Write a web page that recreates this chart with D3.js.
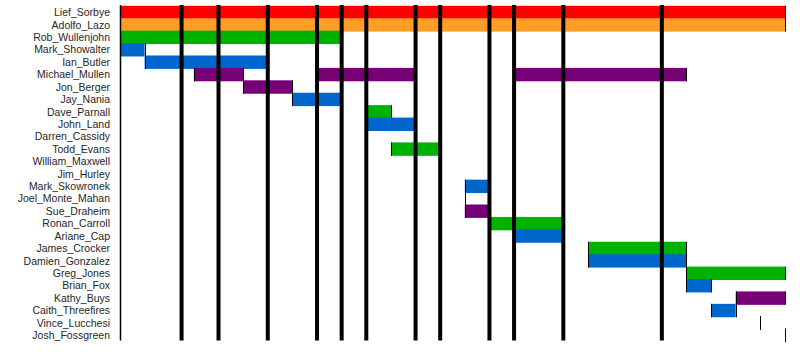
<!DOCTYPE html>
<html>
<head>
<meta charset="utf-8">
<script src="https://cdn.jsdelivr.net/npm/d3@7"></script>
<style>
body { margin: 0; background: #fff; }
svg { display: block; }
</style>
</head>
<body>
<svg id="chart" width="800" height="360"></svg>
<script>
var width = 800;
var height = 360;

// band members, top to bottom
var members = [
	'Lief_Sorbye', 'Adolfo_Lazo', 'Rob_Wullenjohn', 'Mark_Showalter', 'Ian_Butler',
	'Michael_Mullen', 'Jon_Berger', 'Jay_Nania', 'Dave_Parnall', 'John_Land',
	'Darren_Cassidy', 'Todd_Evans', 'William_Maxwell', 'Jim_Hurley', 'Mark_Skowronek',
	'Joel_Monte_Mahan', 'Sue_Draheim', 'Ronan_Carroll', 'Ariane_Cap', 'James_Crocker',
	'Damien_Gonzalez', 'Greg_Jones', 'Brian_Fox', 'Kathy_Buys', 'Caith_Threefires',
	'Vince_Lucchesi', 'Josh_Fossgreen'
];

// [member, start, end, role]
var stints = [
	['Lief_Sorbye', 1988, 2015, 'vocals'],
	['Adolfo_Lazo', 1988, 2015, 'drums'],
	['Rob_Wullenjohn', 1988, 1997, 'guitar'],
	['Mark_Showalter', 1988, 1989, 'fiddle'],
	['Ian_Butler', 1989, 1994, 'fiddle'],
	['Michael_Mullen', 1991, 1993, 'bass'],
	['Michael_Mullen', 1996, 2000, 'bass'],
	['Michael_Mullen', 2004, 2011, 'bass'],
	['Jon_Berger', 1993, 1995, 'bass'],
	['Jay_Nania', 1995, 1997, 'fiddle'],
	['Dave_Parnall', 1998, 1999, 'guitar'],
	['John_Land', 1998, 2000, 'fiddle'],
	['Darren_Cassidy', 2000, 2000, 'fiddle'],
	['Todd_Evans', 1999, 2001, 'guitar'],
	['William_Maxwell', 2001, 2001, 'fiddle'],
	['Jim_Hurley', 2001, 2001, 'fiddle'],
	['Mark_Skowronek', 2002, 2003, 'fiddle'],
	['Joel_Monte_Mahan', 2002, 2002, 'fiddle'],
	['Sue_Draheim', 2002, 2003, 'bass'],
	['Ronan_Carroll', 2003, 2006, 'guitar'],
	['Ariane_Cap', 2004, 2006, 'fiddle'],
	['James_Crocker', 2007, 2011, 'guitar'],
	['Damien_Gonzalez', 2007, 2011, 'fiddle'],
	['Greg_Jones', 2011, 2015, 'guitar'],
	['Brian_Fox', 2011, 2012, 'fiddle'],
	['Kathy_Buys', 2013, 2015, 'bass'],
	['Caith_Threefires', 2012, 2013, 'fiddle'],
	['Vince_Lucchesi', 2014, 2014, 'fiddle'],
	['Josh_Fossgreen', 2015, 2015, 'fiddle']
];

// album release dates
var albums = [1990.5, 1992, 1994, 1996, 1997, 1998, 2000, 2001, 2003, 2004, 2006, 2010];

var roles = ['vocals', 'drums', 'guitar', 'fiddle', 'bass'];
var roleColours = ['#ff0000', '#ff9e27', '#00b200', '#0066cc', '#770077'];

var svg = d3.select('#chart');

var x = d3.scaleLinear()
	.domain([1988, 2015])
	.range([120, 785]);

var y = d3.scaleBand()
	.domain(members)
	.range([6.3, 341.6])
	.padding(0);

var colour = d3.scaleOrdinal()
	.domain(roles)
	.range(roleColours);

var barH = 13.4;

// member names
svg.append('g')
	.selectAll('text')
	.data(members)
	.enter()
	.append('text')
	.attr('x', 110)
	.attr('y', function(d) { return y(d) + y.bandwidth() / 2; })
	.attr('dy', '0.35em')
	.attr('text-anchor', 'end')
	.style('font-family', '"Liberation Sans", Arial, sans-serif')
	.style('font-size', '10.5px')
	.style('fill', '#262626')
	.text(function(d) { return d; });

// bars, drawn in row order so later rows sit on top
var bars = svg.append('g')
	.selectAll('g')
	.data(stints)
	.enter()
	.append('g');

bars.append('rect')
	.attr('x', function(d) { return x(d[1]); })
	.attr('y', function(d) { return y(d[0]) + y.bandwidth() / 2 - barH / 2; })
	.attr('width', function(d) { return x(d[2]) - x(d[1]); })
	.attr('height', barH)
	.style('fill', function(d) { return colour(d[3]); });

// thin black ends of each stint
bars.selectAll('line')
	.data(function(d) {
		return [d[1], d[2]].map(function(v) { return { row: d[0], at: v }; });
	})
	.enter()
	.append('line')
	.attr('x1', function(d) { return Math.round(x(d.at)) + 0.5; })
	.attr('x2', function(d) { return Math.round(x(d.at)) + 0.5; })
	.attr('y1', function(d) { return y(d.row) + y.bandwidth() / 2 - barH / 2; })
	.attr('y2', function(d) { return y(d.row) + y.bandwidth() / 2 + barH / 2; })
	.style('stroke', '#000')
	.style('stroke-width', 1);

// axis line on the left
svg.append('line')
	.attr('x1', x(1988) + 0.5)
	.attr('x2', x(1988) + 0.5)
	.attr('y1', 5)
	.attr('y2', 340.5)
	.style('stroke', '#000')
	.style('stroke-width', 1.5);

// album lines
svg.append('g')
	.selectAll('line')
	.data(albums)
	.enter()
	.append('line')
	.attr('x1', function(d) { return x(d); })
	.attr('x2', function(d) { return x(d); })
	.attr('y1', 5)
	.attr('y2', 340.5)
	.style('stroke', '#000')
	.style('stroke-width', 4);
</script>
</body>
</html>
